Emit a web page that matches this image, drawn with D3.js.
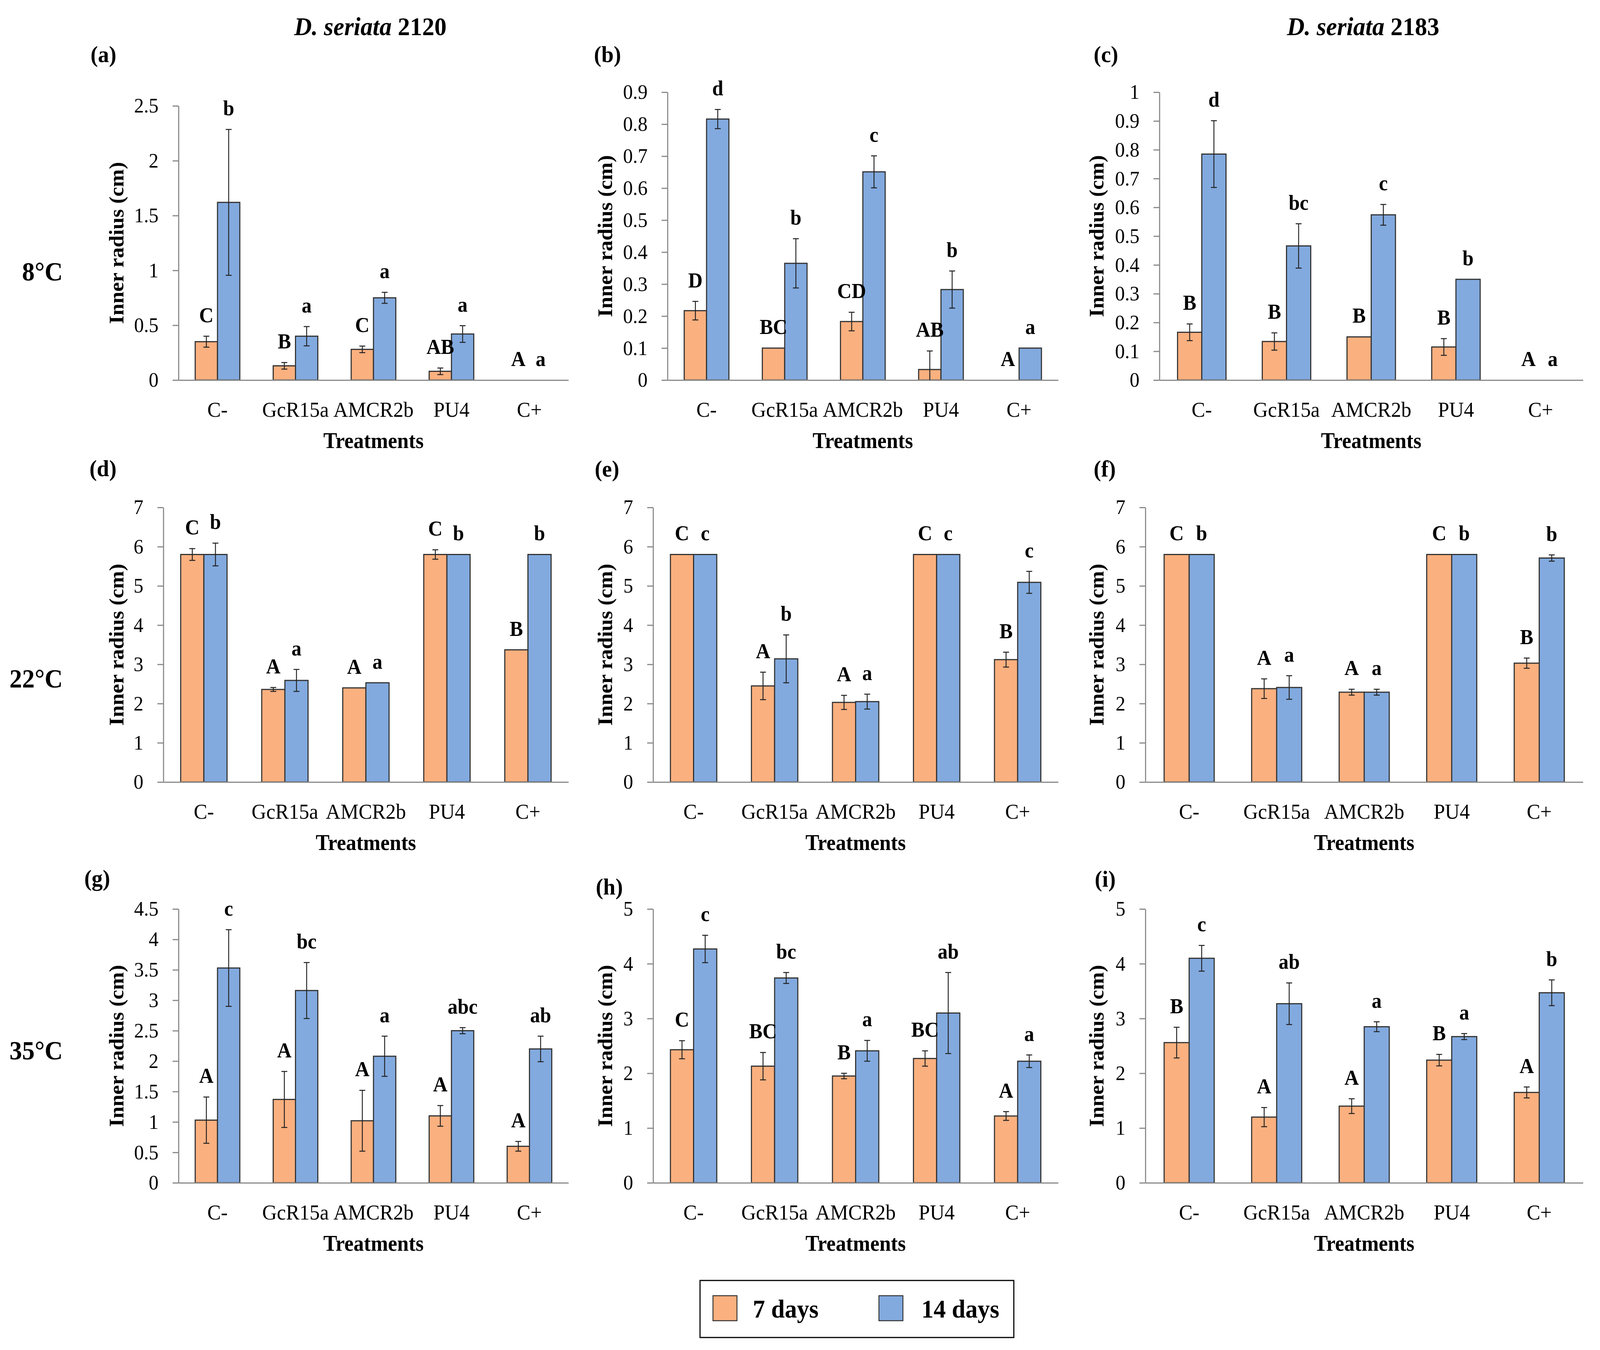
<!DOCTYPE html>
<html>
<head>
<meta charset="utf-8">
<script src="https://cdn.jsdelivr.net/npm/d3@7"></script>
<style>
  html, body { margin: 0; padding: 0; background: #fff; overflow: hidden; }
  #chart { display: block; width: 100vw; height: 100vh; }
  svg text { font-family: "Liberation Serif", "Times New Roman", serif; fill: #000; }
</style>
</head>
<body>
<svg id="chart" viewBox="0 0 4329 3456" preserveAspectRatio="none"></svg>
<script>
// Dati
const CATEGORIES = ["C-", "GcR15a", "AMCR2b", "PU4", "C+"];
const SERIES = ["7 days", "14 days"];
const PANEL_IDS = ["(a)", "(b)", "(c)", "(d)", "(e)", "(f)", "(g)", "(h)", "(i)"];
const COLUMN_TITLES = ["2120", "2183"];
const TEMPERATURES = ["8°C", "22°C", "35°C"];
const Y_MAX = [2.5, 0.9, 1, 7, 7, 7, 4.5, 5, 5];
const Y_STEP = [0.5, 0.1, 0.1, 1, 1, 1, 0.5, 1, 1];

const MEAN_7 = [
  [0.35, 0.13, 0.28, 0.08, 0],
  [0.217, 0.1, 0.183, 0.033, 0],
  [0.166, 0.134, 0.15, 0.115, 0],
  [5.8, 2.36, 2.4, 5.8, 3.37],
  [5.8, 2.45, 2.03, 5.8, 3.12],
  [5.8, 2.38, 2.29, 5.8, 3.03],
  [1.03, 1.37, 1.02, 1.1, 0.6],
  [2.43, 2.13, 1.95, 2.27, 1.22],
  [2.56, 1.2, 1.4, 2.24, 1.65],
];
const ERR_7 = [
  [0.05, 0.03, 0.03, 0.03, 0],
  [0.029, 0, 0.029, 0.058, 0],
  [0.029, 0.03, 0, 0.029, 0],
  [0.15, 0.05, 0, 0.12, 0],
  [0, 0.35, 0.18, 0, 0.19],
  [0, 0.25, 0.075, 0, 0.13],
  [0.38, 0.46, 0.5, 0.17, 0.08],
  [0.165, 0.25, 0.05, 0.14, 0.08],
  [0.28, 0.175, 0.135, 0.105, 0.1],
];
const MEAN_14 = [
  [1.62, 0.4, 0.75, 0.42, 0],
  [0.816, 0.365, 0.651, 0.283, 0.1],
  [0.785, 0.466, 0.574, 0.35, 0],
  [5.8, 2.59, 2.53, 5.8, 5.8],
  [5.8, 3.14, 2.05, 5.8, 5.09],
  [5.8, 2.41, 2.29, 5.8, 5.71],
  [3.53, 3.16, 2.08, 2.5, 2.2],
  [4.27, 3.74, 2.41, 3.1, 2.22],
  [4.1, 3.27, 2.85, 2.67, 3.47],
];
const ERR_14 = [
  [0.665, 0.088, 0.05, 0.076, 0],
  [0.03, 0.077, 0.05, 0.058, 0],
  [0.116, 0.077, 0.036, 0, 0],
  [0.29, 0.28, 0, 0, 0],
  [0, 0.61, 0.19, 0, 0.28],
  [0, 0.3, 0.075, 0, 0.08],
  [0.63, 0.46, 0.33, 0.05, 0.21],
  [0.25, 0.1, 0.19, 0.74, 0.115],
  [0.235, 0.38, 0.09, 0.055, 0.235],
];
const LETTERS_7 = [
  ["C", "B", "C", "AB", "A"],
  ["D", "BC", "CD", "AB", "A"],
  ["B", "B", "B", "B", "A"],
  ["C", "A", "A", "C", "B"],
  ["C", "A", "A", "C", "B"],
  ["C", "A", "A", "C", "B"],
  ["A", "A", "A", "A", "A"],
  ["C", "BC", "B", "BC", "A"],
  ["B", "A", "A", "B", "A"],
];
const LETTERS_14 = [
  ["b", "a", "a", "a", "a"],
  ["d", "b", "c", "b", "a"],
  ["d", "bc", "c", "b", "a"],
  ["b", "a", "a", "b", "b"],
  ["c", "b", "a", "c", "c"],
  ["b", "a", "a", "b", "b"],
  ["c", "bc", "a", "abc", "ab"],
  ["c", "bc", "a", "ab", "a"],
  ["c", "ab", "a", "a", "b"],
];

// Colori e impaginazione
const COLORS = ["#FBB07F", "#82AADF"];
const AXIS_GRAY = "#8a8a8a";
const COL_RIGHT = [1538, 2863, 4283];
const COL_TITLE_X = [324, 1646, 2976];
const ROW_ZERO = [973, 2002, 3028];
const PANEL_LEFT = [483, 1806, 3137, 442, 1767, 3099, 483, 1767, 3099];
const PANEL_TOP = [271, 236, 236, 1299, 1299, 1299, 2327, 2327, 2327];
const LABEL_POS = [
  [245, 139], [1607, 139], [2959, 139],
  [242, 1199], [1609, 1200], [2959, 1200],
  [228, 2248], [1612, 2270], [2962, 2250],
];

const svg = d3.select("#chart");
const fmt = (d) => String(+d.toFixed(2));

// Titoli delle colonne
[[1002, 0], [3688, 1]].forEach(([cx, k]) => {
  const t = svg.append("text")
    .attr("x", cx).attr("y", 90)
    .attr("text-anchor", "middle")
    .attr("font-size", 66).attr("font-weight", "bold");
  t.append("tspan").attr("font-style", "italic").text("D. seriata");
  t.append("tspan").text(" " + COLUMN_TITLES[k]);
});

// Temperature a sinistra
[718, 1760, 2712].forEach((yy, r) => {
  svg.append("text")
    .attr("x", 170).attr("y", yy)
    .attr("text-anchor", "end")
    .attr("font-size", 68).attr("font-weight", "bold")
    .text(TEMPERATURES[r]);
});

// Disegna un pannello
function drawPanel(i) {
  const col = i % 3;
  const row = Math.floor(i / 3);
  const left = PANEL_LEFT[i];
  const right = COL_RIGHT[col];
  const zero = ROW_ZERO[row];
  const g = svg.append("g");

  const x0 = d3.scaleBand().domain(CATEGORIES).range([left, right]).paddingInner(0.428).paddingOuter(0.214);
  const x1 = d3.scaleBand().domain(SERIES).range([0, x0.bandwidth()]);
  const y = d3.scaleLinear().domain([0, Y_MAX[i]]).range([zero, PANEL_TOP[i]]);

  const rows = [];
  CATEGORIES.forEach((c, j) => {
    rows.push({ cat: c, s: SERIES[0], v: MEAN_7[i][j], e: ERR_7[i][j], lab: LETTERS_7[i][j], k: 0 });
    rows.push({ cat: c, s: SERIES[1], v: MEAN_14[i][j], e: ERR_14[i][j], lab: LETTERS_14[i][j], k: 1 });
  });
  const cx = (d) => x0(d.cat) + x1(d.s) + x1.bandwidth() / 2;

  // barre
  g.selectAll("rect.bar")
    .data(rows.filter((d) => d.v > 0))
    .join("rect")
    .attr("class", "bar")
    .attr("x", (d) => x0(d.cat) + x1(d.s))
    .attr("y", (d) => y(d.v))
    .attr("width", x1.bandwidth())
    .attr("height", (d) => zero - y(d.v))
    .attr("fill", (d) => COLORS[d.k])
    .attr("stroke", "#333")
    .attr("stroke-width", 3);

  // asse y
  const ticks = d3.range(0, Y_MAX[i] + Y_STEP[i] / 2, Y_STEP[i]);
  const ya = g.append("g")
    .attr("transform", `translate(${left},0)`)
    .call(d3.axisLeft(y).tickValues(ticks).tickFormat(fmt).tickSize(16).tickSizeOuter(0).tickPadding(38));
  ya.select(".domain").attr("stroke", AXIS_GRAY).attr("stroke-width", 3);
  ya.selectAll(".tick line").attr("stroke", AXIS_GRAY).attr("stroke-width", 3);
  ya.selectAll("text").attr("font-size", 53).attr("fill", "#111").attr("font-family", null);

  // asse x
  const xa = g.append("g")
    .attr("transform", `translate(0,${zero})`)
    .call(d3.axisBottom(x0).tickSize(0).tickPadding(55));
  xa.select(".domain").attr("stroke", AXIS_GRAY).attr("stroke-width", 3);
  xa.selectAll("text").attr("font-size", 55).attr("fill", "#111").attr("font-family", null);

  // barre di errore
  const eb = rows.filter((d) => d.e > 0);
  g.selectAll("line.err")
    .data(eb)
    .join("line")
    .attr("class", "err")
    .attr("x1", cx).attr("x2", cx)
    .attr("y1", (d) => y(Math.max(0, d.v - d.e)))
    .attr("y2", (d) => y(d.v + d.e))
    .attr("stroke", "#222").attr("stroke-width", 2.5);
  g.selectAll("line.capTop")
    .data(eb)
    .join("line")
    .attr("class", "capTop")
    .attr("x1", (d) => cx(d) - 8).attr("x2", (d) => cx(d) + 8)
    .attr("y1", (d) => y(d.v + d.e)).attr("y2", (d) => y(d.v + d.e))
    .attr("stroke", "#222").attr("stroke-width", 2.5);
  g.selectAll("line.capBot")
    .data(eb.filter((d) => d.v - d.e > 0))
    .join("line")
    .attr("class", "capBot")
    .attr("x1", (d) => cx(d) - 8).attr("x2", (d) => cx(d) + 8)
    .attr("y1", (d) => y(d.v - d.e)).attr("y2", (d) => y(d.v - d.e))
    .attr("stroke", "#222").attr("stroke-width", 2.5);

  // lettere di significatività
  g.selectAll("text.sig")
    .data(rows)
    .join("text")
    .attr("class", "sig")
    .attr("x", cx)
    .attr("y", (d) => y(d.v + d.e) - 36)
    .attr("text-anchor", "middle")
    .attr("font-size", 54).attr("font-weight", "bold")
    .text((d) => d.lab);

  // titoli assi
  const ty = (PANEL_TOP[i] + zero) / 2;
  g.append("text")
    .attr("transform", `translate(${COL_TITLE_X[col] + 10},${ty}) rotate(-90)`)
    .attr("text-anchor", "middle")
    .attr("font-size", 55).attr("font-weight", "bold")
    .text("Inner radius (cm)");
  g.append("text")
    .attr("x", (left + right) / 2).attr("y", zero + 174)
    .attr("text-anchor", "middle")
    .attr("font-size", 56).attr("font-weight", "bold")
    .text("Treatments");

  // etichetta del pannello
  g.append("text")
    .attr("x", LABEL_POS[i][0]).attr("y", LABEL_POS[i][1] + 20)
    .attr("font-size", 60).attr("font-weight", "bold")
    .text(PANEL_IDS[i]);
}

PANEL_IDS.forEach((_, i) => drawPanel(i));

// Legenda
const lg = svg.append("g");
lg.append("rect")
  .attr("x", 1894).attr("y", 3278).attr("width", 849).attr("height", 146)
  .attr("fill", "#fff").attr("stroke", "#000").attr("stroke-width", 3);
[[1929, 2037], [2378, 2493]].forEach(([sx, tx], k) => {
  lg.append("rect")
    .attr("x", sx).attr("y", 3317).attr("width", 65).attr("height", 64)
    .attr("fill", COLORS[k]).attr("stroke", "#333").attr("stroke-width", 2.5);
  lg.append("text")
    .attr("x", tx).attr("y", 3373)
    .attr("font-size", 66).attr("font-weight", "bold")
    .text(SERIES[k]);
});
</script>
</body>
</html>
